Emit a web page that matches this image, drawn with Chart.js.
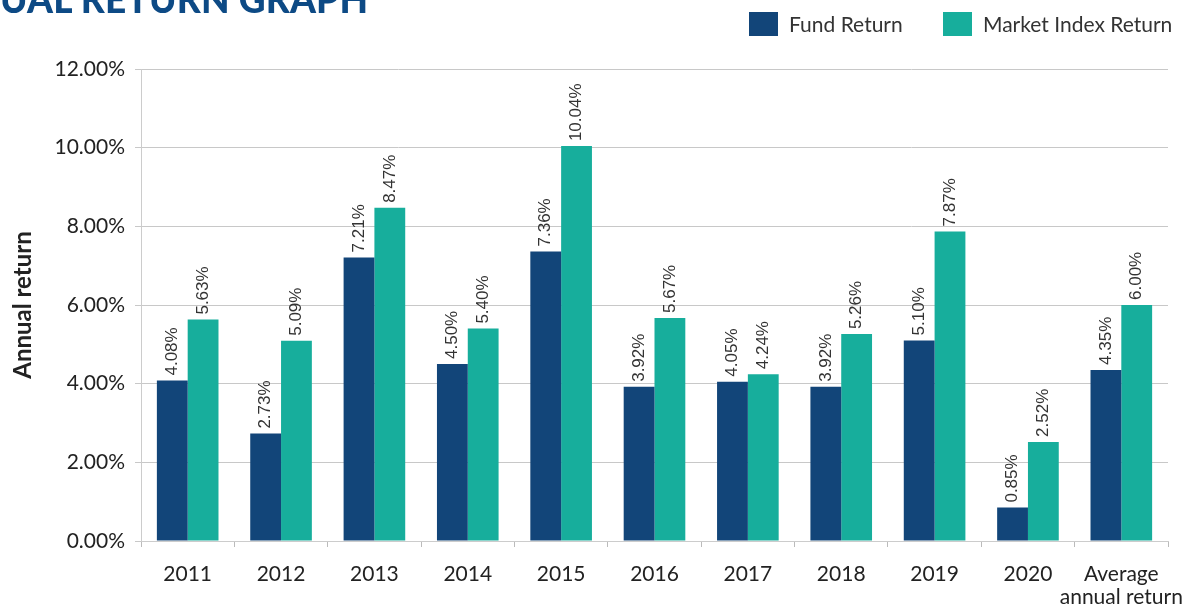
<!DOCTYPE html>
<html lang="en">
<head>
<meta charset="utf-8">
<style>
  body { margin: 0; background: #fff; }
  #wrap { position: relative; width: 1187px; height: 606px; overflow: hidden; }
  #title { position: absolute; left: 0; top: -24px; font-family: Lato; font-weight: 900; font-size: 37px; color: #0d4a85; letter-spacing: 0.2px; white-space: nowrap; }
  #legend { position: absolute; top: 12px; left: 749px; font-family: Lato; font-size: 21px; color: #333; }
  .item { position: absolute; top: 0; white-space: nowrap; }
  .box { display: inline-block; width: 29px; height: 24px; vertical-align: top; margin-right: 11px; }
  .item span { line-height: 24px; vertical-align: top; }
</style>
</head>
<body>
<div id="wrap">
  <canvas id="myChart" width="1187" height="606"></canvas>
  <div id="title">UAL RETURN GRAPH</div>
  <div id="legend">
    <div class="item" style="left:0"><div class="box" style="background:#124579"></div><span>Fund Return</span></div>
    <div class="item" style="left:194px"><div class="box" style="background:#17ae9c"></div><span>Market Index Return</span></div>
  </div>
</div>
<script src="https://cdn.jsdelivr.net/npm/chart.js"></script>
<script>
const labels = ['2011', '2012', '2013', '2014', '2015', '2016', '2017', '2018', '2019', '2020', ['Average', 'annual return']];
const fundReturn = [4.08, 2.73, 7.21, 4.50, 7.36, 3.92, 4.05, 3.92, 5.10, 0.85, 4.35];
const indexReturn = [5.63, 5.09, 8.47, 5.40, 10.04, 5.67, 4.24, 5.26, 7.87, 2.52, 6.00];
const yTicks = [0, 2, 4, 6, 8, 10, 12];

// rotated value labels above each bar
const barLabels = {
    id: 'barLabels',
    afterDatasetsDraw(chart) {
        const ctx = chart.ctx;
        ctx.save();
        ctx.font = '17px "Liberation Sans"';
        ctx.fillStyle = '#333';
        ctx.textAlign = 'left';
        ctx.textBaseline = 'middle';
        chart.data.datasets.forEach((ds, i) => {
            chart.getDatasetMeta(i).data.forEach((bar, j) => {
                ctx.save();
                ctx.translate(bar.x, bar.y - 5);
                ctx.rotate(-Math.PI / 2);
                ctx.fillText(ds.data[j].toFixed(2) + '%', 0, 0);
                ctx.restore();
            });
        });
        ctx.restore();
    }
};

const data = {
    labels: labels,
    datasets: [{
        label: 'Fund Return',
        backgroundColor: '#124579',
        data: fundReturn
    }, {
        label: 'Market Index Return',
        backgroundColor: '#17ae9c',
        data: indexReturn
    }]
};

const config = {
    type: 'bar',
    data: data,
    options: {
        responsive: false,
        animation: false,
        layout: { padding: { top: 69, right: 19, left: 9, bottom: 0 } },
        datasets: { bar: { categoryPercentage: 0.66, barPercentage: 1 } },
        plugins: { legend: { display: false }, tooltip: { enabled: false } },
        scales: {
            x: {
                grid: { drawOnChartArea: false, offset: true, tickLength: 6, color: '#bbb' },
                border: { color: '#ccc' },
                ticks: { font: { family: 'Lato', size: 21, lineHeight: 1.1 }, color: '#222', padding: 16, maxRotation: 0, autoSkip: false },
                afterFit(scale) { scale.height = 65; scale.paddingRight = 0; scale.paddingLeft = 0; }
            },
            y: {
                min: 0, max: 12,
                afterBuildTicks(scale) { scale.ticks = yTicks.map(v => ({ value: v })); },
                grid: { color: '#c8c8c8', tickLength: 6 },
                border: { color: '#ccc' },
                ticks: {
                    font: { family: 'Lato', size: 21 }, color: '#222', padding: 10,
                    callback: v => v.toFixed(2) + '%'
                },
                title: { display: true, text: 'Annual return', font: { family: 'Lato', size: 24, weight: 'bold' }, color: '#222', padding: 0 },
                afterFit(scale) { scale.width = 132; }
            }
        }
    },
    plugins: [barLabels]
};

const myChart = new Chart(document.getElementById('myChart'), config);
</script>
</body>
</html>
